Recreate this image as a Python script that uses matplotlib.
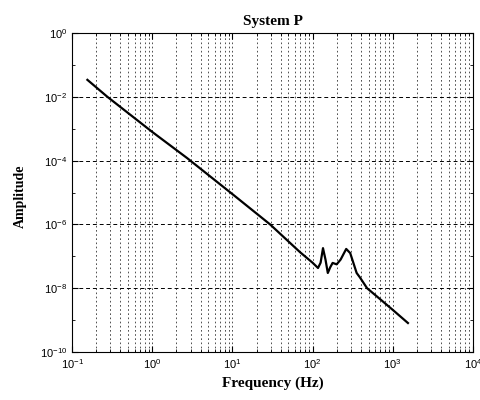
import matplotlib
matplotlib.use('Agg')
import matplotlib.pyplot as plt
from matplotlib.ticker import LogLocator, NullFormatter

# data (frequency in Hz, amplitude)
freq = [0.155, 0.275, 1.0, 2.72, 10, 29.5, 69.7, 100, 117, 126, 135, 145, 155,
        166, 178, 200, 224, 263, 295, 355, 389, 479, 692, 1000, 1550]
amp = [3.4e-2, 1.0e-2, 7.9e-4, 1.2e-4, 8.9e-6, 1.0e-6, 1.35e-7, 6.3e-8, 4.3e-8,
       6.3e-8, 1.8e-7, 7.9e-8, 3.0e-8, 4.5e-8, 6.2e-8, 5.6e-8, 7.9e-8, 1.7e-7,
       1.26e-7, 3.0e-8, 2.2e-8, 1.0e-8, 4.6e-9, 2.1e-9, 8.1e-10]

x_ticks = [1e-1, 1e0, 1e1, 1e2, 1e3, 1e4]
y_ticks = [1e-10, 1e-8, 1e-6, 1e-4, 1e-2, 1e0]

plt.rcParams['font.family'] = 'Liberation Sans'

fig = plt.figure(figsize=(4.81, 4.0), dpi=100)
ax = fig.add_axes([0.150, 0.12, 0.833, 0.7975])

ax.loglog(freq, amp, color='black', linewidth=1.6)

ax.set_xlim(1e-1, 1e4)
ax.set_ylim(1e-10, 1e0)
ax.set_xticks(x_ticks)
ax.set_yticks(y_ticks)
ax.xaxis.set_minor_locator(LogLocator(base=10, subs=range(2, 10), numticks=20))
ax.xaxis.set_minor_formatter(NullFormatter())
ax.yaxis.set_minor_locator(LogLocator(base=10, subs=[1.0], numticks=20))
ax.yaxis.set_minor_formatter(NullFormatter())

ax.tick_params(which='both', direction='in', top=True, right=True, labelsize=8)
ax.tick_params(which='major', length=4)
ax.tick_params(which='minor', length=2)

# grid: every x position, even y decades
ax.grid(True, which='both', axis='x', color='black', linestyle=(0, (2, 3)), linewidth=0.6, alpha=0.8)
ax.grid(True, which='major', axis='y', color='black', linestyle=(0, (4, 3)), linewidth=0.7)

ax.set_title('System P', fontfamily='Liberation Serif', fontweight='bold', fontsize=11)
ax.set_xlabel('Frequency (Hz)', fontfamily='Liberation Serif', fontweight='bold', fontsize=11)
fig.text(20 / 481, 1 - 196 / 400, 'Amplitude', rotation=90, ha='center', va='center',
         fontfamily='Liberation Serif', fontweight='bold', fontsize=10)

fig.savefig('out.png', dpi=100)
